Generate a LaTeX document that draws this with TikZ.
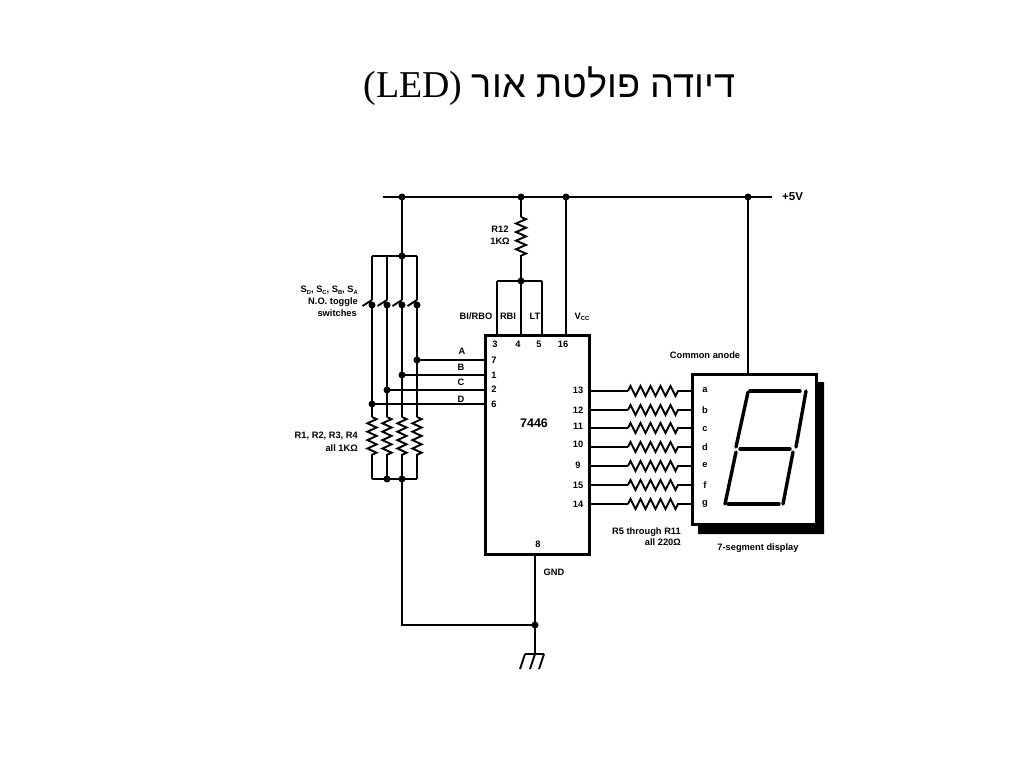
\documentclass[tikz,border=0pt]{standalone}
\usepackage{fontspec}
\usetikzlibrary{decorations.pathmorphing}
\setmainfont{Liberation Sans}
\newfontfamily\titlefont{Liberation Serif}
\newfontfamily\hebfont[Script=Hebrew]{Liberation Sans}
\TeXXeTstate=1
\newcommand{\lowsub}[1]{\raisebox{-1.6pt}{\fontsize{5.8}{5.8}\selectfont #1}}
\tikzset{
  wire/.style={line width=1.9pt, black},
  heavy/.style={line width=2.8pt, black},
  seg/.style={line width=3.4pt, black, line cap=round},
  jdot/.style={circle, fill=black, inner sep=0pt, outer sep=-1pt, minimum size=7pt},
  lbl/.style={font=\bfseries\fontsize{9.3}{11}\selectfont, inner sep=0pt, text=black},
  rlbl/.style={lbl, align=right, anchor=east},
  vres/.style={decorate, decoration={zigzag, segment length=8.4pt, amplitude=4.6pt}},
  hres/.style={decorate, decoration={zigzag, segment length=10pt, amplitude=5pt}},
  r12res/.style={decorate, decoration={zigzag, segment length=8.6pt, amplitude=5pt}},
}
\begin{document}
\begin{tikzpicture}[x=1pt,y=-1pt]
\useasboundingbox (0,0) rectangle (1024,768);
\fill[white] (0,0) rectangle (1024,768);

\node[font=\fontsize{37.9}{42}\selectfont, inner sep=0pt] (title) at (549.5,86) {\titlefont (LED) \hebfont\beginR דיודה פולטת אור\endR};

% Bus
\coordinate (busL) at (383,197);
\coordinate (busR) at (772,197);
\draw[wire] (busL) -- (busR);
\node[jdot] (j402) at (402,197) {};
\node[jdot] (j521) at (521,197) {};
\node[jdot] (j566) at (566,197) {};
\node[jdot] (j748) at (748,197) {};
\node[lbl, anchor=west, font=\bfseries\fontsize{11.5}{13}\selectfont] (plus) at (782,197) {+5V};

% Chip
\node[draw, heavy, fill=white, minimum width=104pt, minimum height=219pt, inner sep=0pt, anchor=north west] (chip) at (484,334) {};
\node[lbl, font=\bfseries\fontsize{12.5}{14}\selectfont] (name) at (534,423) {7446};

% Switch bar
\coordinate (tb1) at (372,256);
\coordinate (tb4) at (417,256);
\node[jdot] (tb3) at (402,256) {};
\draw[wire] (j402) -- (tb3);
\draw[wire] (tb1) -- (tb4);

\foreach \n/\x in {1/372,2/387,3/402,4/417}{
  \coordinate (bladeTop\n) at (\x,300);
  \coordinate (bladeEnd\n) at ({\x-9.5},306);
  \coordinate (barT\n) at (\x,256);
  \node[jdot] (con\n) at (\x,305) {};
  \coordinate (rtop\n) at (\x,417);
  \coordinate (rbot\n) at (\x,458);
  \coordinate (barB\n) at (\x,479);
  \draw[wire] (barT\n) -- (bladeTop\n);
  \draw[wire] (bladeEnd\n) -- (bladeTop\n);
  \draw[wire] (con\n) -- (rtop\n);
  \draw[wire, vres] (rtop\n) -- (rbot\n);
  \draw[wire] (rbot\n) -- (barB\n);
}
\draw[wire] (barB1) -- (barB4);
\node[jdot] (bb2) at (387,479) {};
\node[jdot] (bb3) at (402,479) {};

% Data lines
\node[jdot] (dA) at (417,360) {};
\node[jdot] (dB) at (402,375) {};
\node[jdot] (dC) at (387,390) {};
\node[jdot] (dD) at (372,404) {};
\draw[wire] (dA) -- (dA -| chip.west);
\draw[wire] (dB) -- (dB -| chip.west);
\draw[wire] (dC) -- (dC -| chip.west);
\draw[wire] (dD) -- (dD -| chip.west);
\node[lbl] (lA) at (462,351) {A};
\node[lbl] (lB) at (461,367) {B};
\node[lbl] (lC) at (461,382) {C};
\node[lbl] (lD) at (461,399) {D};
\node[lbl] (p7) at (494,360) {7};
\node[lbl] (p1) at (494,375) {1};
\node[lbl] (p2) at (494,389) {2};
\node[lbl] (p6) at (494,404) {6};

% R12 and top pins
\coordinate (r12t) at (521,217);
\coordinate (r12b) at (521,259);
\node[jdot] (j281) at (521,281) {};
\draw[wire] (j521) -- (r12t);
\draw[wire, r12res] (r12t) -- (r12b);
\draw[wire] (r12b) -- (j281);
\coordinate (b1) at (497,281);
\coordinate (b3) at (542,281);
\draw[wire] (b1) -- (b3);
\draw[wire] (b1) -- (b1 |- chip.north);
\draw[wire] (j281) -- (j281 |- chip.north);
\draw[wire] (b3) -- (b3 |- chip.north);
\draw[wire] (j566) -- (j566 |- chip.north);
\node[lbl] (r12a) at (500,229) {R12};
\node[lbl] (r12c) at (500,241) {1KΩ};
\node[lbl] (bi) at (476,316) {BI/RBO};
\node[lbl] (rbi) at (508,316) {RBI};
\node[lbl] (lt) at (535,316) {LT};
\node[lbl] (vcc) at (582,317) {V\lowsub{CC}};
\node[lbl] (p3) at (495,344) {3};
\node[lbl] (p4) at (518,344) {4};
\node[lbl] (p5) at (539,344) {5};
\node[lbl] (p16) at (563,344) {16};

% Switch / resistor text
\node[rlbl] (sw1) at (358,290.5) {S\lowsub{D}, S\lowsub{C}, S\lowsub{B}, S\lowsub{A}};
\node[rlbl] (sw2) at (358,302) {N.O. toggle};
\node[rlbl] (sw3) at (357,313) {switches};
\node[rlbl] (rr1) at (358,436) {R1, R2, R3, R4};
\node[rlbl] (rr2) at (358,448) {all 1KΩ};

% Ground
\node[jdot] (gj) at (535,625) {};
\coordinate (gnw) at (402,625);
\coordinate (gt) at (535,654);
\coordinate (g1) at (525,654);
\coordinate (g3) at (544,654);
\coordinate (g1b) at (520,669);
\coordinate (g2b) at (530,669);
\coordinate (g3b) at (539,669);
\draw[wire] (bb3) -- (gnw) -- (gj);
\draw[wire] (gj |- chip.south) -- (gj);
\draw[wire] (gj) -- (gt);
\draw[wire] (g1) -- (g3);
\draw[wire] (g1) -- (g1b);
\draw[wire] (gt) -- (g2b);
\draw[wire] (g3) -- (g3b);
\node[lbl] (p8) at (538,544) {8};
\node[lbl] (gnd) at (554,572) {GND};

% Display
\fill[black] (698,534) -- (698,523) -- (815,523) -- (815,382) -- (824,382) -- (824,534) -- cycle;
\node[draw, heavy, fill=white, minimum width=124pt, minimum height=150pt, inner sep=0pt, anchor=north west] (disp) at (691,373) {};
\draw[wire] (j748) -- (j748 |- disp.north);
\node[lbl] (ca) at (705,355) {Common anode};
\node[lbl] (sd) at (758,548) {7-segment display};
\node[rlbl, anchor=north east] (rnote) at (681,527.5) {R5 through R11\\all 220Ω};

\foreach \nm/\yy/\py/\pn/\ly/\lt in {a/391/390/13/390/a,b/410/410/12/410/b,c/428/426/11/429/c,d/447/444/10/447/d,e/466/465/9/465/e,f/485/485/15/485/f,g/504/504/14/504/g}{
  \coordinate (hl\nm) at (628,\yy);
  \coordinate (hr\nm) at (679,\yy);
  \coordinate (cl\nm) at (588,\yy);
  \coordinate (dl\nm) at (691,\yy);
  \draw[wire] (cl\nm) -- (hl\nm);
  \draw[wire, hres] (hl\nm) -- (hr\nm);
  \draw[wire] (hr\nm) -- (dl\nm);
  \node[lbl] (pin\nm) at (578,\py) {\pn};
  \node[lbl] (let\nm) at (705,\ly) {\lt};
}

% Segments
\draw[seg] (750,391) -- (800,391);
\draw[seg] (806,391) -- (796,447);
\draw[seg] (748,392) -- (736,447);
\draw[seg] (740,449) -- (790,449);
\draw[seg] (736,452) -- (725,504);
\draw[seg] (793,452) -- (783,504);
\draw[seg] (728,504) -- (779,504);
\end{tikzpicture}
\end{document}
